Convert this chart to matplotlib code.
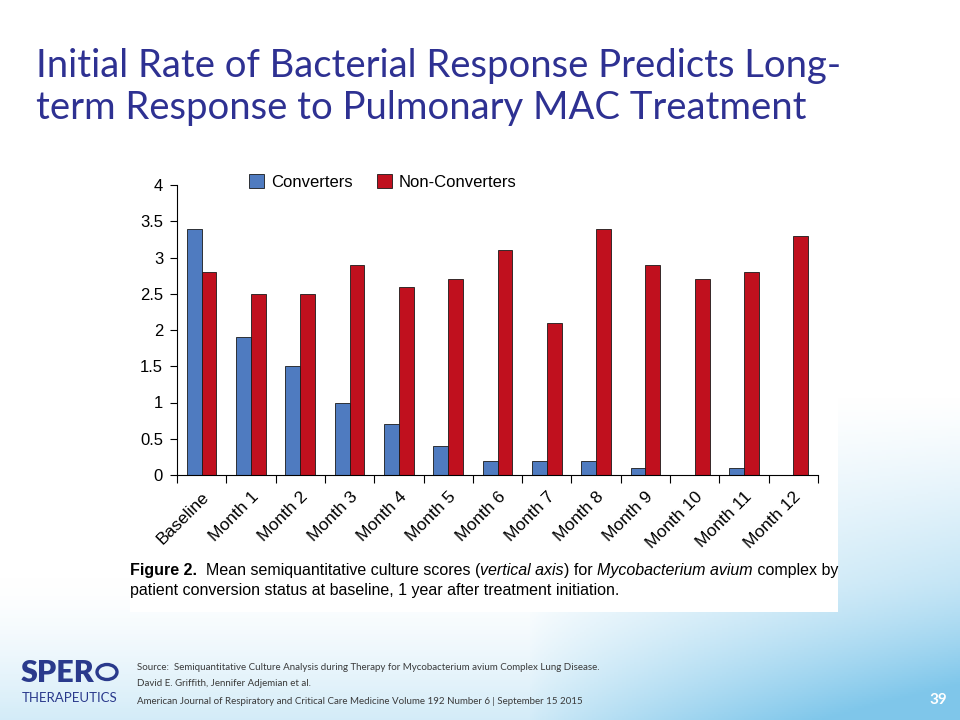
import numpy as np
import matplotlib
matplotlib.use("Agg")
import matplotlib.pyplot as plt
from matplotlib.patches import Rectangle, Circle

# data
categories = ["Baseline", "Month 1", "Month 2", "Month 3", "Month 4", "Month 5", "Month 6",
              "Month 7", "Month 8", "Month 9", "Month 10", "Month 11", "Month 12"]
converters = [3.4, 1.9, 1.5, 1.0, 0.7, 0.4, 0.2, 0.2, 0.2, 0.1, 0.0, 0.1, 0.0]
non_converters = [2.8, 2.5, 2.5, 2.9, 2.6, 2.7, 3.1, 2.1, 3.4, 2.9, 2.7, 2.8, 3.3]
y_ticks = [0, 0.5, 1, 1.5, 2, 2.5, 3, 3.5, 4]

title = "Initial Rate of Bacterial Response Predicts Long-\nterm Response to Pulmonary MAC Treatment"
source_lines = [
    "Source:  Semiquantitative Culture Analysis during Therapy for Mycobacterium avium Complex Lung Disease.",
    "David E. Griffith, Jennifer Adjemian et al.",
    "American Journal of Respiratory and Critical Care Medicine Volume 192 Number 6 | September 15 2015",
]

NAVY = "#2E3192"
BLUE = "#4F7BC0"
RED = "#C0101E"
CHART_FONT = ["Liberation Sans Narrow", "Liberation Sans", "DejaVu Sans"]

fig = plt.figure(figsize=(9.6, 7.2), dpi=100)

# slide background: white, fading to light blue near the bottom (stronger on the right)
bg = fig.add_axes([0, 0, 1, 1], zorder=-10)
h, w = 360, 480
yy, xx = np.mgrid[0:h, 0:w]
fy = yy / h
fx = xx / w
t_left = np.clip((fy - 0.80) / 0.20, 0, 1) ** 1.5 * 0.35
t_right = np.clip((fy - 0.55) / 0.45, 0, 1) ** 1.2 * np.clip((fx - 0.55) / 0.45, 0, 1) ** 0.8
t = np.clip(t_left + t_right * 0.9, 0, 1)
top = np.array([1.0, 1.0, 1.0])
bot = np.array([0.50, 0.78, 0.92])
img = top[None, None, :] * (1 - t[..., None]) + bot[None, None, :] * t[..., None]
bg.imshow(img, extent=[0, 1, 0, 1], aspect="auto", origin="upper")
bg.set_xlim(0, 1)
bg.set_ylim(0, 1)
bg.axis("off")

# white panel behind the pasted figure
fig.patches.append(Rectangle((130 / 960, 1 - 612 / 720), 708 / 960, 447 / 720,
                             transform=fig.transFigure, facecolor="white",
                             edgecolor="none", zorder=-5))

# title
fig.text(36 / 960, 1 - 48 / 720, title, fontsize=27.5, color=NAVY, family=["Lato", "DejaVu Sans"],
         va="top", ha="left", linespacing=1.2)

ax = fig.add_axes([177 / 960, 1 - 475 / 720, 641 / 960, 290 / 720])
x = np.arange(len(categories)) + 0.5
bw = 0.3
ax.bar(x - bw / 2, converters, bw, color=BLUE, edgecolor="#1a1a1a", linewidth=0.6, label="Converters")
ax.bar(x + bw / 2, non_converters, bw, color=RED, edgecolor="#1a1a1a", linewidth=0.6, label="Non-Converters")

ax.set_xlim(0, len(categories))
ax.set_ylim(0, 4)
ax.set_xticks(np.arange(len(categories) + 1))
ax.set_xticklabels([])
ax.set_xticks(x, minor=True)
ax.set_xticklabels(categories, minor=True, rotation=45, ha="right", va="top",
                   rotation_mode="anchor", family=CHART_FONT, fontsize=12.5)
ax.tick_params(axis="x", which="major", length=6, width=0.8, direction="out")
ax.tick_params(axis="x", which="minor", length=0, pad=10)
ax.set_yticks(y_ticks)
ax.set_yticklabels(["%g" % v for v in y_ticks], family=CHART_FONT, fontsize=12)
ax.tick_params(axis="y", length=5, width=0.8, direction="out", pad=5)
for s in ["top", "right"]:
    ax.spines[s].set_visible(False)
for s in ["left", "bottom"]:
    ax.spines[s].set_linewidth(0.8)
ax.set_facecolor("none")

ax.legend(loc="center left", bbox_to_anchor=(234 / 960, 1 - 182 / 720), bbox_transform=fig.transFigure,
          ncol=2, frameon=False, prop={"family": CHART_FONT, "size": 12},
          handlelength=0.9, handleheight=0.9, columnspacing=1.5, handletextpad=0.4)

# caption with mixed styles, placed run by run
def text_runs(x0, y0, runs, size=11.5):
    r = fig.canvas.get_renderer()
    xpos = x0
    for s, weight, style in runs:
        tt = fig.text(xpos, y0, s, fontsize=size, fontweight=weight, fontstyle=style,
                      family=["Liberation Sans", "DejaVu Sans"], va="baseline", ha="left")
        bb = tt.get_window_extent(renderer=r)
        xpos += bb.width / fig.bbox.width

text_runs(130 / 960, 1 - 575 / 720, [
    ("Figure 2.", "bold", "normal"),
    ("  Mean semiquantitative culture scores (", "normal", "normal"),
    ("vertical axis", "normal", "italic"),
    (") for ", "normal", "normal"),
    ("Mycobacterium avium", "normal", "italic"),
    (" complex by", "normal", "normal"),
])
text_runs(130 / 960, 1 - 595 / 720, [
    ("patient conversion status at baseline, 1 year after treatment initiation.", "normal", "normal"),
])

# source block
for i, line in enumerate(source_lines):
    fig.text(137 / 960, 1 - (667 + 17 * i) / 720, line, fontsize=7, color="#3a3a3a",
             family=["Lato", "DejaVu Sans"], va="center", ha="left")

# logo
fig.text(21 / 960, 1 - 682 / 720, "SPER", fontsize=22, fontweight="heavy", color="#2A3A8C",
         family=["Lato", "DejaVu Sans"], va="baseline", ha="left")
fig.patches.append(Circle((107 / 960, 1 - 672 / 720), 10 / 960, transform=fig.transFigure,
                          facecolor="none", edgecolor="#2A3A8C", linewidth=2.4))
fig.text(22 / 960, 1 - 702 / 720, "THERAPEUTICS", fontsize=9.5, color="#2A3A8C",
         family=["Liberation Sans Narrow", "Lato", "DejaVu Sans"], va="baseline", ha="left")

fig.text(938 / 960, 1 - 700 / 720, "39", fontsize=11, fontweight="bold", color="white",
         family=["Lato", "DejaVu Sans"], va="center", ha="center")

fig.savefig("out.png", dpi=100)
